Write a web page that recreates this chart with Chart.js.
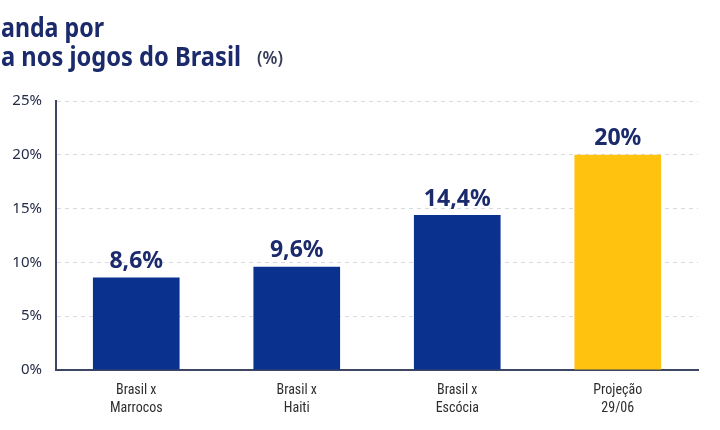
<!DOCTYPE html>
<html>
<head>
<meta charset="utf-8">
<script src="https://cdn.jsdelivr.net/npm/chart.js@4.4.0/dist/chart.umd.min.js"></script>
<style>
  html, body { margin: 0; padding: 0; background: #ffffff; }
  #wrap { width: 720px; height: 430px; position: relative; }
</style>
</head>
<body>
<div id="wrap"><canvas id="chart" width="720" height="430"></canvas></div>
<script>
// data
const categories = [['Brasil x', 'Marrocos'], ['Brasil x', 'Haiti'], ['Brasil x', 'Escócia'], ['Projeção', '29/06']]
const shares     = [8.6, 9.6, 14.4, 20]
const shareLabels = ['8,6%', '9,6%', '14,4%', '20%']
const barColors  = ['#0b318f', '#0b318f', '#0b318f', '#ffc20e']
const titleLines = ['anda por', 'a nos jogos do Brasil']
const unitLabel  = '(%)'

const navy = '#1b2a6b'
const axisColor = '#3d4663'

// draws the cut-off title in the top left corner
const titlePlugin = {
	id: 'titleText',
	afterDraw(chart) {
		const ctx = chart.ctx
		ctx.save()
		ctx.fillStyle = navy
		ctx.textBaseline = 'alphabetic'
		ctx.textAlign = 'left'
		ctx.font = 'bold 26px "Noto Sans", "Open Sans", sans-serif'
		const targets = [103, 240]
		const baselines = [37, 66]
		titleLines.forEach((line, i) => {
			const w = ctx.measureText(line).width
			ctx.save()
			ctx.translate(1, baselines[i])
			ctx.scale(targets[i] / w, 1)
			ctx.fillText(line, 0, 0)
			ctx.restore()
		})
		ctx.fillStyle = '#353c5a'
		ctx.font = '600 17px "Noto Sans", "Open Sans", sans-serif'
		ctx.fillText(unitLabel, 257, 64)
		ctx.restore()
	}
}

// value labels above each bar
const valuePlugin = {
	id: 'valueLabels',
	afterDatasetsDraw(chart) {
		const ctx = chart.ctx
		const meta = chart.getDatasetMeta(0)
		ctx.save()
		ctx.fillStyle = navy
		ctx.textAlign = 'center'
		ctx.textBaseline = 'middle'
		ctx.font = 'bold 23px "Noto Sans", "Open Sans", sans-serif'
		meta.data.forEach((bar, i) => {
			ctx.fillText(shareLabels[i], bar.x, bar.y - 16)
		})
		ctx.restore()
	}
}

new Chart(document.getElementById('chart'), {
	type: 'bar',
	data: {
		labels: categories,
		datasets: [{
			data: shares,
			backgroundColor: barColors,
			borderWidth: 0,
			barPercentage: 0.9,
			categoryPercentage: 0.6
		}]
	},
	options: {
		responsive: false,
		animation: false,
		layout: { padding: { top: 101, left: 0, right: 22, bottom: 0 } },
		plugins: {
			legend: { display: false },
			tooltip: { enabled: false }
		},
		scales: {
			x: {
				offset: true,
				grid: { display: false },
				border: { display: true, color: axisColor, width: 2 },
				ticks: {
					color: '#2e2e2e',
					padding: 3,
					maxRotation: 0,
					font: { family: '"Liberation Sans Narrow", "Roboto Condensed", Roboto, sans-serif', size: 14, lineHeight: 1.3 }
				},
				afterFit(scale) { scale.height = 430 - 370 }
			},
			y: {
				min: 0,
				max: 25,
				ticks: {
					stepSize: 5,
					color: '#252c48',
					padding: 14,
					font: { family: '"Noto Sans", sans-serif', size: 15 },
					callback: (v) => v + '%'
				},
				grid: {
					drawTicks: false,
					color: (c) => c.tick && c.tick.value === 0 ? 'rgba(0,0,0,0)' : '#d7dae2',
					lineWidth: 1
				},
				border: { display: true, color: axisColor, width: 2, dash: [4, 4] },
				afterFit(scale) { scale.width = 56 }
			}
		}
	},
	plugins: [titlePlugin, valuePlugin]
})
</script>
</body>
</html>
